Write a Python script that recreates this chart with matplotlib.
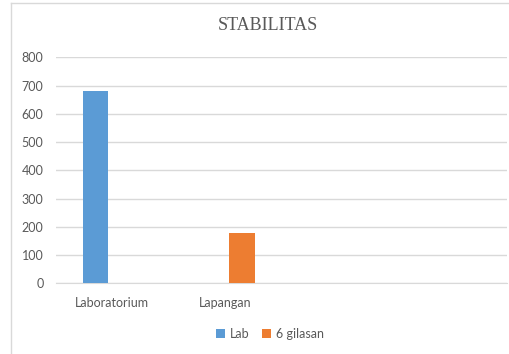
import numpy as np
import matplotlib.pyplot as plt
from matplotlib.lines import Line2D

categories = ["Laboratorium", "Lapangan", "", ""]
lab = [680, np.nan, np.nan, np.nan]
gilasan = [np.nan, 178, np.nan, np.nan]
yticks = [0, 100, 200, 300, 400, 500, 600, 700, 800]

W, H = 510, 354
fig = plt.figure(figsize=(W / 100, H / 100), dpi=100)
fig.patch.set_facecolor('white')

# chart frame (only left and top edge visible in the crop)
fig.add_artist(Line2D([10.7 / W, 10.7 / W], [0, 1 - 3 / H], transform=fig.transFigure, color='#D9D9D9', lw=1))
fig.add_artist(Line2D([10.7 / W, 1], [1 - 3 / H, 1 - 3 / H], transform=fig.transFigure, color='#D9D9D9', lw=1))

ax = fig.add_axes([56 / W, (H - 283.3) / H, (507 - 56) / W, (283.3 - 57.3) / H])
x = np.arange(len(categories))
off = 0.148
wid = 0.226
ax.bar(x - off, lab, wid, color='#5B9BD5', label='Lab', zorder=3)
ax.bar(x + off, gilasan, wid, color='#ED7D31', label='6 gilasan', zorder=3)

ax.set_xlim(-0.5, len(categories) - 0.5)
ax.set_ylim(0, 800)
ax.set_yticks(yticks)
ax.set_xticks(x)
ax.set_xticklabels(categories)
ax.grid(axis='y', color='#D9D9D9', lw=1, zorder=0)
for s in ['top', 'right', 'left']:
    ax.spines[s].set_visible(False)
ax.spines['bottom'].set_color('#D9D9D9')
ax.tick_params(length=0, colors='#595959', labelsize=9)
ax.tick_params(axis='y', pad=9)
ax.tick_params(axis='x', pad=10)
for t in ax.get_xticklabels() + ax.get_yticklabels():
    t.set_family('Lato')

fig.text(268 / W, 1 - 26 / H, 'STABILITAS', ha='center', va='center',
         fontsize=13, family='Liberation Serif', color='#595959')

fig.legend(loc='center', bbox_to_anchor=(270 / W, 1 - 334 / H), ncol=2, frameon=False,
           prop={'family': 'Lato', 'size': 9}, labelcolor='#595959',
           handlelength=0.7, handleheight=0.7, handletextpad=0.4, columnspacing=1.0)

plt.savefig('out.png', dpi=100)
